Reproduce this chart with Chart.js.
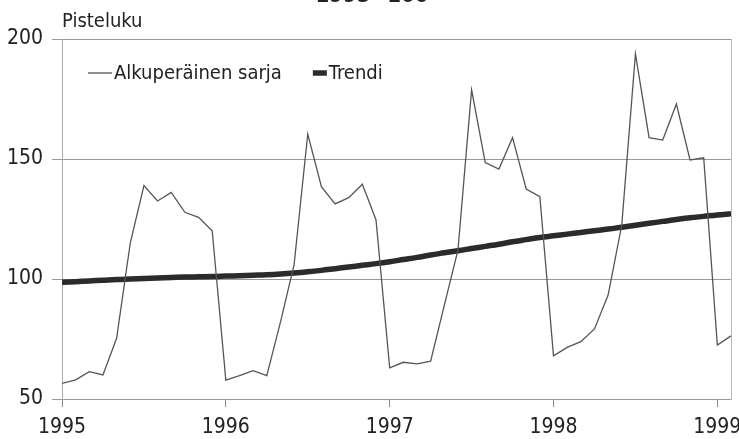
<!DOCTYPE html>
<html lang="fi">
<head>
<meta charset="UTF-8">
<title>Pisteluku 1995=100</title>
<script src="https://cdn.jsdelivr.net/npm/chart.js"></script>
<style>
  body { margin: 0; background: #fff; }
  #wrap { width: 739px; height: 439px; position: relative; }
</style>
</head>
<body>
<div id="wrap"><canvas id="chart"></canvas></div>
<script>
const FONT = "'Liberation Sans Narrow', 'DejaVu Sans Condensed', 'Arial Narrow', sans-serif";

const titleText = '1995=100';
const unitLabel = 'Pisteluku';
const years = ['1995', '1996', '1997', '1998', '1999'];
const startYear = 1995;

// monthly values, Jan 1995 - Feb 1999
const original = [
  56.5, 58.0, 61.4, 60.0, 75.3, 115.0, 138.9, 132.5, 136.1, 127.8, 125.7, 120.1,
  57.9, 59.7, 61.8, 59.7, 82.0, 106.0, 160.4, 138.5, 131.3, 133.9, 139.5, 124.6,
  63.0, 65.3, 64.6, 65.8, 89.0, 112.0, 178.8, 148.5, 145.8, 158.9, 137.5, 134.3,
  68.0, 71.5, 73.9, 79.2, 93.3, 122.5, 193.8, 158.9, 157.9, 172.9, 149.6, 150.5,
  72.5, 76.3
];
const trend = [
  98.6, 98.9, 99.2, 99.5, 99.8, 100.0, 100.2, 100.4, 100.6, 100.8, 100.9, 101.0,
  101.2, 101.4, 101.6, 101.8, 102.1, 102.5, 103.0, 103.6, 104.3, 105.0, 105.7, 106.4,
  107.2, 108.1, 109.0, 110.0, 110.9, 111.8, 112.7, 113.6, 114.5, 115.5, 116.4, 117.3,
  118.0, 118.7, 119.4, 120.1, 120.8, 121.6, 122.4, 123.2, 124.0, 124.8, 125.5, 126.1,
  126.7, 127.2
];

const toPoints = arr => arr.map((v, i) => ({ x: startYear + i / 12, y: v }));

// title (cut at the top edge), unit label and legend
const extraText = {
  id: 'extraText',
  afterDraw(chart) {
    const ctx = chart.ctx;
    const area = chart.chartArea;
    ctx.save();
    ctx.fillStyle = '#222';
    ctx.textBaseline = 'alphabetic';
    ctx.font = 'bold 22px ' + FONT;
    ctx.textAlign = 'center';
    ctx.fillText(titleText, 372, 2);
    ctx.font = '20px ' + FONT;
    ctx.textAlign = 'left';
    ctx.fillText(unitLabel, area.left, 27);

    let x = 88;
    const y = 73;
    ctx.font = '20px ' + FONT;
    ctx.textBaseline = 'middle';
    chart.data.datasets.forEach(ds => {
      ctx.strokeStyle = ds.borderColor;
      ctx.lineWidth = ds.borderWidth;
      ctx.beginPath();
      ctx.moveTo(x, y);
      ctx.lineTo(x + ds.legendLen, y);
      ctx.stroke();
      x += ds.legendLen + 2;
      ctx.fillText(ds.label, x, y + 1);
      x += ctx.measureText(ds.label).width + 31;
    });
    ctx.restore();
  }
};

const tickFont = { family: FONT, size: 21 };

new Chart(document.getElementById('chart'), {
  type: 'line',
  data: {
    datasets: [
      {
        label: 'Alkuperäinen sarja',
        data: toPoints(original),
        borderColor: '#555',
        borderWidth: 1.3,
        pointRadius: 0,
        tension: 0,
        legendLen: 24
      },
      {
        label: 'Trendi',
        data: toPoints(trend),
        borderColor: '#2b2b2b',
        borderWidth: 5.5,
        pointRadius: 0,
        tension: 0.4,
        legendLen: 14
      }
    ]
  },
  options: {
    responsive: true,
    maintainAspectRatio: false,
    animation: false,
    layout: { autoPadding: false, padding: { top: 39, right: 8, left: 0, bottom: 0 } },
    plugins: {
      legend: { display: false },
      tooltip: { enabled: false }
    },
    scales: {
      x: {
        type: 'linear',
        min: startYear,
        max: startYear + (original.length - 1) / 12,
        afterBuildTicks: s => { s.ticks = years.map(y => ({ value: Number(y) })); },
        ticks: {
          autoSkip: false,
          maxRotation: 0,
          padding: 8,
          color: '#222',
          font: tickFont,
          callback: v => years[Math.round(v) - startYear] ?? ''
        },
        grid: { drawOnChartArea: false, tickLength: 8, color: '#888' },
        border: { color: '#999' },
        afterFit: s => { s.height = 40; s.paddingLeft = 0; s.paddingRight = 0; }
      },
      y: {
        min: 50,
        max: 200,
        ticks: { stepSize: 50, padding: 9, color: '#222', font: tickFont },
        grid: { tickLength: 10, color: '#999' },
        border: { color: '#aaa' },
        afterFit: s => { s.width = 62; s.paddingTop = 0; s.paddingBottom = 0; }
      },
      y2: {
        position: 'right',
        min: 50,
        max: 200,
        ticks: { display: false },
        grid: { drawOnChartArea: false, drawTicks: false },
        border: { color: '#bbb' },
        afterFit: s => { s.width = 0; }
      }
    }
  },
  plugins: [extraText]
});
</script>
</body>
</html>
